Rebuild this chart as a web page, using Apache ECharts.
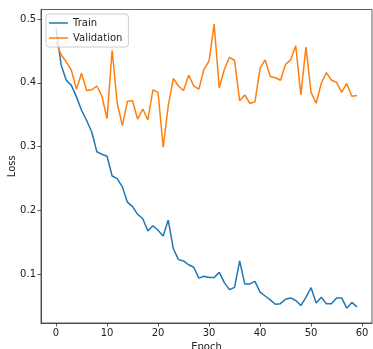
<!DOCTYPE html>
<html>
<head>
<meta charset="utf-8">
<script src="https://cdn.jsdelivr.net/npm/echarts@6/dist/echarts.min.js"></script>
<style>
html,body{margin:0;padding:0;background:#fff;}
#c{width:373px;height:349px;}
</style>
</head>
<body>
<div id="c"></div>
<script>
const epochs = Array.from({length: 60}, (_, i) => i);
const trainLoss = [0.486, 0.428, 0.404, 0.396, 0.378, 0.357, 0.341, 0.323, 0.292, 0.288,
  0.285, 0.254, 0.250, 0.237, 0.213, 0.206, 0.194, 0.187, 0.168, 0.176,
  0.169, 0.160, 0.185, 0.140, 0.123, 0.121, 0.115, 0.111, 0.094, 0.097,
  0.095, 0.095, 0.103, 0.087, 0.076, 0.0795, 0.121, 0.085, 0.085, 0.089,
  0.072, 0.066, 0.060, 0.053, 0.054, 0.061, 0.063, 0.059, 0.051, 0.064,
  0.079, 0.055, 0.064, 0.054, 0.054, 0.063, 0.063, 0.047, 0.056, 0.049];
const valLoss = [0.464, 0.444, 0.433, 0.420, 0.390, 0.415, 0.388, 0.389, 0.395, 0.379,
  0.344, 0.451, 0.368, 0.333, 0.371, 0.372, 0.343, 0.359, 0.342, 0.389,
  0.385, 0.299, 0.364, 0.407, 0.395, 0.388, 0.412, 0.395, 0.390, 0.421,
  0.434, 0.492, 0.392, 0.421, 0.440, 0.435, 0.372, 0.381, 0.368, 0.370,
  0.423, 0.436, 0.410, 0.408, 0.404, 0.429, 0.436, 0.458, 0.381, 0.456,
  0.385, 0.368, 0.399, 0.416, 0.404, 0.401, 0.385, 0.399, 0.379, 0.380];
const xTicks = [0, 10, 20, 30, 40, 50, 60];
const yTicks = [0.1, 0.2, 0.3, 0.4, 0.5];

const chart = echarts.init(document.getElementById('c'), null, {renderer: 'canvas'});
const font = 'DejaVu Sans';
chart.setOption({
  animation: false,
  backgroundColor: '#fff',
  textStyle: {fontFamily: font},
  grid: {left: 41, right: 1, top: 9.5, bottom: 26, show: true, borderColor: '#333', borderWidth: 0.8,
         containLabel: false, outerBoundsMode: 'none'},
  legend: {
    left: 46, top: 14, orient: 'vertical', icon: 'rect',
    backgroundColor: 'rgba(255,255,255,0.8)', borderColor: '#ccc', borderWidth: 1, borderRadius: 3,
    padding: [4, 6, 4, 3], itemGap: 5, itemWidth: 19, itemHeight: 1.5,
    textStyle: {fontFamily: font, fontSize: 10, color: '#222'},
    data: ['Train', 'Validation']
  },
  xAxis: {
    type: 'value', min: -2.95, max: 61.95,
    name: 'Epoch', nameLocation: 'middle', nameGap: 19, nameMoveOverlap: false,
    nameTextStyle: {fontFamily: font, fontSize: 10, color: '#222'},
    splitLine: {show: false},
    axisLine: {show: true, onZero: false, lineStyle: {color: '#333', width: 0.8}},
    axisTick: {show: true, inside: false, length: 3.5, lineStyle: {color: '#333', width: 0.8}, customValues: xTicks},
    axisLabel: {fontFamily: font, fontSize: 10, color: '#222', margin: 5, customValues: xTicks, formatter: v => String(v)}
  },
  yAxis: {
    type: 'value', min: 0.0237, max: 0.5149,
    name: 'Loss', nameLocation: 'middle', nameGap: 24, nameRotate: 90, nameMoveOverlap: false,
    nameTextStyle: {fontFamily: font, fontSize: 10, color: '#222'},
    splitLine: {show: false},
    axisLine: {show: true, onZero: false, lineStyle: {color: '#333', width: 0.8}},
    axisTick: {show: true, inside: false, length: 3.5, lineStyle: {color: '#333', width: 0.8}, customValues: yTicks},
    axisLabel: {fontFamily: font, fontSize: 10, color: '#222', margin: 5, customValues: yTicks, formatter: v => v.toFixed(1)}
  },
  series: [
    {name: 'Train', type: 'line', symbol: 'none', color: '#1f77b4',
     lineStyle: {width: 1.5, color: '#1f77b4'},
     data: epochs.map((e, i) => [e, trainLoss[i]])},
    {name: 'Validation', type: 'line', symbol: 'none', color: '#ff7f0e',
     lineStyle: {width: 1.5, color: '#ff7f0e'},
     data: epochs.map((e, i) => [e, valLoss[i]])}
  ]
});
</script>
</body>
</html>
